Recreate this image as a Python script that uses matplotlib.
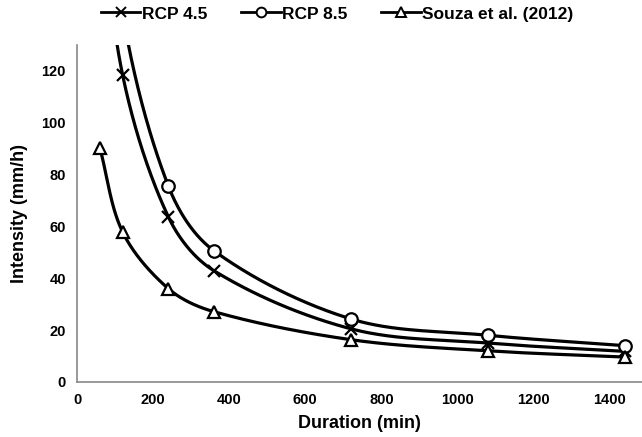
import numpy as np
import matplotlib.pyplot as plt
from matplotlib.lines import Line2D

plt.rcParams['font.family'] = ['Liberation Sans', 'DejaVu Sans']
plt.rcParams['font.weight'] = 'bold'

duration = [60, 120, 240, 360, 720, 1080, 1440]
rcp45 = [190, 118.3, 63.7, 42.9, 20.5, 15.0, 11.8]
rcp85 = [230, 142, 75.6, 50.6, 24.3, 18.0, 14.0]
souza = [90.3, 57.8, 36.0, 27.1, 16.3, 12.0, 9.6]

labels = ['RCP 4.5', 'RCP 8.5', 'Souza et al. (2012)']
markers = ['x', 'o', '^']


def smooth(ax, xs, ys, n=60):
    # smoothed line built in screen space, tangents weighted by segment length
    tr = ax.transData
    p = tr.transform(np.column_stack([xs, ys]))
    k = len(p)
    d = np.linalg.norm(np.diff(p, axis=0), axis=1)
    t = np.linspace(0, 1, n)[:, None]
    out = []
    for i in range(k - 1):
        p0, p1 = p[i], p[i + 1]
        if i > 0:
            m0 = (p[i + 1] - p[i - 1]) * d[i] / (d[i - 1] + d[i])
        else:
            m0 = p[1] - p[0]
        if i + 2 < k:
            m1 = (p[i + 2] - p[i]) * d[i] / (d[i] + d[i + 1])
        else:
            m1 = p[i + 1] - p[i]
        c1 = p0 + m0 / 3
        c2 = p1 - m1 / 3
        seg = ((1 - t)**3 * p0 + 3 * (1 - t)**2 * t * c1
               + 3 * (1 - t) * t**2 * c2 + t**3 * p1)
        out.append(seg)
    out = tr.inverted().transform(np.vstack(out))
    return out[:, 0], out[:, 1]


fig = plt.figure(figsize=(6.42, 4.37), dpi=100)
ax = fig.add_axes([0.12, 0.126, 0.88, 0.771])
ax.set_xlim(0, 1485)
ax.set_ylim(0, 130)

handles = []
for ys, m, lab in zip([rcp45, rcp85, souza], markers, labels):
    sx, sy = smooth(ax, duration, ys)
    ax.plot(sx, sy, color='black', lw=2.3)
    ax.plot(duration, ys, linestyle='none', marker=m, ms=9,
            mfc='white' if m != 'x' else 'black', mec='black', mew=1.6)
    handles.append(Line2D([], [], color='black', lw=2, marker=m, ms=7,
                          mfc='white', mec='black', mew=1.4, label=lab))

ax.set_xticks(range(0, 1401, 200))
ax.set_yticks(range(0, 121, 20))
ax.tick_params(length=0, labelsize=10.5, pad=8)
for s in ['top', 'right']:
    ax.spines[s].set_visible(False)
for s in ['left', 'bottom']:
    ax.spines[s].set_color('#888888')
    ax.spines[s].set_linewidth(1.2)

ax.set_xlabel('Duration (min)', fontsize=13, fontweight='bold', labelpad=6)
ax.set_ylabel('Intensity (mm/h)', fontsize=13, fontweight='bold', labelpad=10)

fig.legend(handles=handles, loc='center', bbox_to_anchor=(0.525, 0.968), ncol=3,
           frameon=False, handlelength=2.3, columnspacing=1.9,
           handletextpad=0.1, prop={'weight': 'bold', 'size': 12.5})

fig.savefig('out.png', dpi=100)
